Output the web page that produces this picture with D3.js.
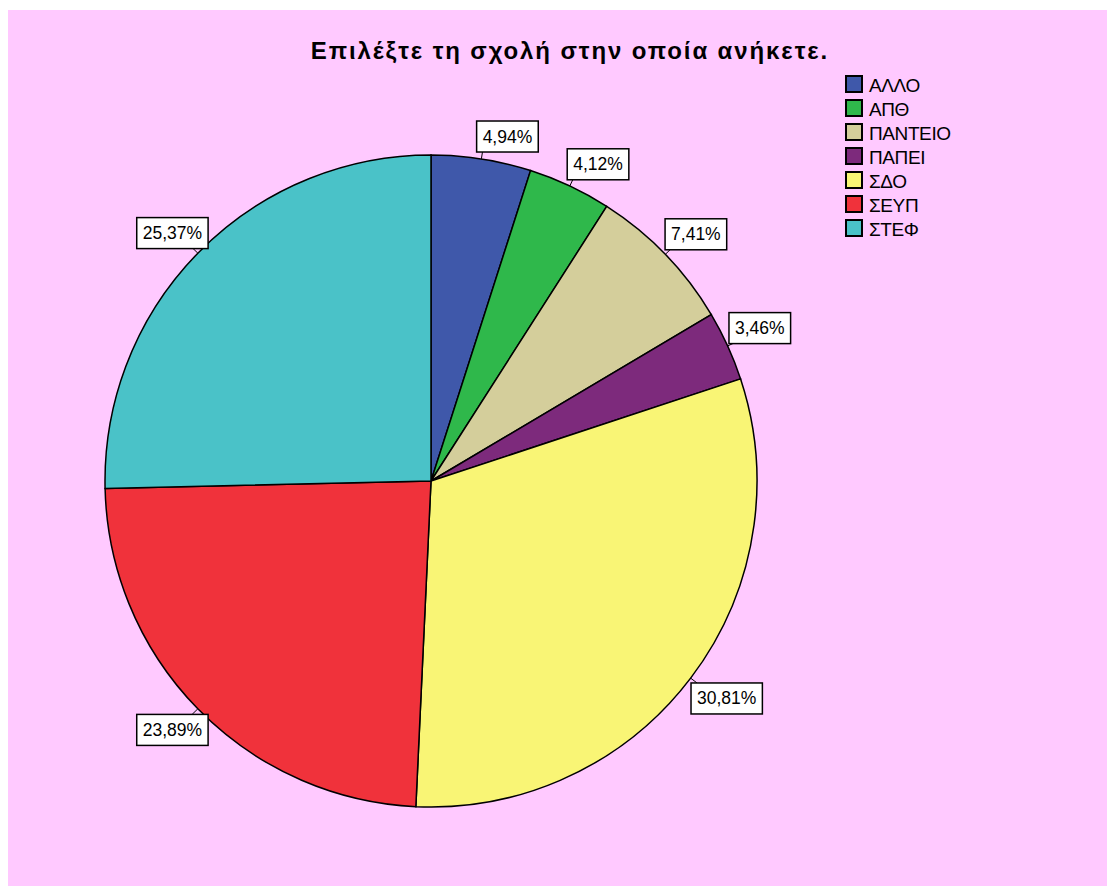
<!DOCTYPE html>
<html>
<head>
<meta charset="utf-8">
<script src="https://cdn.jsdelivr.net/npm/d3@7"></script>
<style>
  body { margin: 0; background: #fff; }
  svg { display: block; font-family: "Liberation Sans", Arial, sans-serif; }
</style>
</head>
<body>
<script>
// chart data
var schools = ["ΑΛΛΟ", "ΑΠΘ", "ΠΑΝΤΕΙΟ", "ΠΑΠΕΙ", "ΣΔΟ", "ΣΕΥΠ", "ΣΤΕΦ"];
var percents = [4.94, 4.12, 7.41, 3.46, 30.81, 23.89, 25.37];
var colors = ["#3f58aa", "#2fb84b", "#d4ce9b", "#7d2a7c", "#f9f575", "#f0323b", "#4ac2c8"];
var title = "Επιλέξτε τη σχολή στην οποία ανήκετε.";

var width = 1107;
var height = 888;

var cx = 431, cy = 481, radius = 326;

var svg = d3.select("body")
	.append("svg")
	.attr("width", width)
	.attr("height", height);

// pink chart area
svg.append("rect")
	.attr("x", 8)
	.attr("y", 10)
	.attr("width", width - 8)
	.attr("height", 876)
	.style("fill", "#ffc9ff");

svg.append("text")
	.attr("x", 570)
	.attr("y", 59)
	.attr("text-anchor", "middle")
	.style("font-size", "24px")
	.style("font-weight", "bold")
	.style("letter-spacing", "1.9px")
	.text(title);

var data = schools.map(function(s, i) {
	return { name: s, value: percents[i], color: colors[i] };
});

var pie = d3.pie()
	.sort(null)
	.value(function(d) { return d.value; });

var arc = d3.arc()
	.innerRadius(0)
	.outerRadius(radius);

var g = svg.append("g")
	.attr("transform", "translate(" + cx + "," + cy + ")");

var arcs = pie(data);

g.selectAll("path")
	.data(arcs)
	.enter()
	.append("path")
	.attr("d", arc)
	.style("fill", function(d) { return d.data.color; })
	.style("stroke", "#000")
	.style("stroke-width", 1.5);

// labels with leader lines
var fmt = function(v) { return v.toFixed(2).replace(".", ",") + "%"; };

arcs.forEach(function(d) {
	var a = (d.startAngle + d.endAngle) / 2;
	var sx = Math.sin(a), sy = -Math.cos(a);
	var p0 = [sx * radius, sy * radius];
	var p1 = [sx * (radius + 8), sy * (radius + 8)];

	var lg = g.append("g");
	lg.append("line")
		.attr("x1", p0[0]).attr("y1", p0[1])
		.attr("x2", p1[0]).attr("y2", p1[1])
		.style("stroke", "#000")
		.style("stroke-width", 1);

	var t = lg.append("text")
		.style("font-size", "17.5px")
		.text(fmt(d.data.value));
	var tw = t.node().getComputedTextLength();
	var bw = tw + 12, bh = 31;

	var bx = sx >= 0 ? p1[0] - 6 : p1[0] + 16 - bw;
	var by = sy <= 0 ? p1[1] - bh + 1 : p1[1];

	lg.insert("rect", "text")
		.attr("x", bx).attr("y", by)
		.attr("width", bw).attr("height", bh)
		.style("fill", "#fff")
		.style("stroke", "#000")
		.style("stroke-width", 1.5);

	t.attr("x", bx + bw / 2)
		.attr("y", by + bh / 2 + 6)
		.attr("text-anchor", "middle");
});

// legend
var legend = svg.append("g")
	.attr("transform", "translate(846,76)");

var item = legend.selectAll("g")
	.data(data)
	.enter()
	.append("g")
	.attr("transform", function(d, i) { return "translate(0," + (i * 24) + ")"; });

item.append("rect")
	.attr("width", 16)
	.attr("height", 16)
	.style("fill", function(d) { return d.color; })
	.style("stroke", "#000")
	.style("stroke-width", 2);

item.append("text")
	.attr("x", 23)
	.attr("y", 16)
	.style("font-size", "19px")
	.style("letter-spacing", "-0.4px")
	.text(function(d) { return d.name; });
</script>
</body>
</html>
